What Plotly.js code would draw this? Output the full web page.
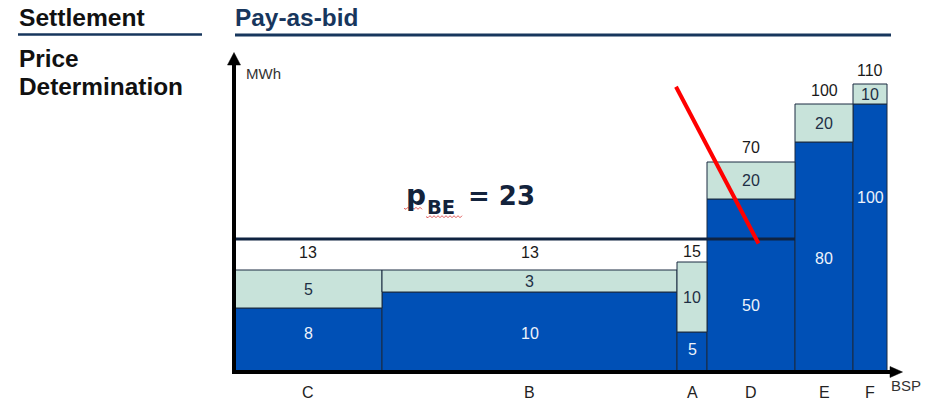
<!DOCTYPE html>
<html>
<head>
<meta charset="utf-8">
<script src="https://cdn.plot.ly/plotly-3.0.1.min.js"></script>
<style>html,body{margin:0;padding:0;background:#fff;}#chart{width:935px;height:401px;}</style>
</head>
<body>
<div id="chart"></div>
<script>
// ---------- data ----------
const categories   = ['C', 'B', 'A', 'D', 'E', 'F'];
const lowerValues  = [8, 10, 5, 50, 80, 100];   // dark blue segment labels
const upperValues  = [5, 3, 10, 20, 20, 10];    // light segment labels
const totalValues  = [13, 13, 15, 70, 100, 110];
const barWidths    = [148, 295, 30, 88, 58, 34];   // drawn BSP widths (schematic units)
const lowerHeights = [63, 79, 39, 172, 229, 267];  // drawn heights of dark segments
const upperHeights = [38, 22, 70, 37, 38, 20];     // drawn heights of light segments
const breakEvenPrice  = 23;
const breakEvenHeight = 132;                       // drawn level of p_BE line
const breakEvenEndBar = 'D';

// ---------- styling ----------
const FONT = 'Liberation Sans, Arial, sans-serif';
const WIDE = 'DejaVu Sans, Verdana, sans-serif';
const DARK = '#0050b6', LIGHT = '#c8e3da', EDGE = '#1b2a40', NAVY = '#17365d', INK = '#13233c';
const darkLabelFrac = [0.6, 0.48, 0.54, 0.38, 0.49, 0.65];
const totalGap      = [18, 18, 11, 15, 14, 14];

// pixel-to-axis helpers (axes map 1 unit = 1 px; origin at px (234, 371))
const X = px => px - 234;
const Y = py => 371 - py;

const lefts = [], centers = [];
let acc = 0;
barWidths.forEach(w => { lefts.push(acc); centers.push(acc + w / 2); acc += w; });
const totals = lowerHeights.map((h, i) => h + upperHeights[i]);
const beIdx = categories.indexOf(breakEvenEndBar);
const beEnd = lefts[beIdx] + barWidths[beIdx];

const traces = [
  { type: 'bar', x: centers, width: barWidths, y: lowerHeights, base: lowerHeights.map(() => 0),
    hoverinfo: 'skip', marker: { color: DARK, line: { color: EDGE, width: 1 } } },
  { type: 'bar', x: centers, width: barWidths, y: upperHeights, base: lowerHeights,
    hoverinfo: 'skip', marker: { color: LIGHT, line: { color: EDGE, width: 1 } } }
];

const ann = [];
function txt(x, y, text, size, color, opts, family) {
  ann.push(Object.assign({ x: x, y: y, xref: 'x', yref: 'y', text: text, showarrow: false,
    font: { family: family || FONT, size: size, color: color }, xanchor: 'center', yanchor: 'middle' }, opts || {}));
}
// headers
txt(X(17), Y(17.6), '<b>Settlement</b>', 24.6, '#111', { xanchor: 'left' });
txt(X(233), Y(17.3), '<b>Pay-as-bid</b>', 24.4, NAVY, { xanchor: 'left' });
txt(X(17), Y(58.3), '<b>Price</b>', 24.4, '#111', { xanchor: 'left' });
txt(X(17), Y(86.6), '<b>Determination</b>', 24.4, '#111', { xanchor: 'left' });
// axis labels
txt(X(244), Y(73.3), 'MWh', 15, '#333', { xanchor: 'left' });
txt(X(889), Y(385.5), 'BSP', 15, '#333', { xanchor: 'left' });
// bar labels
categories.forEach((c, i) => {
  txt(centers[i], Y(392), c, 16, '#222');
  txt(centers[i], lowerHeights[i] * darkLabelFrac[i], String(lowerValues[i]), 16, '#eef3fb');
  txt(centers[i], lowerHeights[i] + upperHeights[i] / 2, String(upperValues[i]), 16, '#1e2f45');
  txt(centers[i], totals[i] + totalGap[i], String(totalValues[i]), 16, '#1a1a1a');
});
// p_BE label
txt(X(404), Y(195.3), '<b>p</b>', 28, INK, { xanchor: 'left' }, WIDE);
txt(X(424.5), Y(207.4), '<b>BE</b>', 19.5, INK, { xanchor: 'left' }, WIDE);
txt(X(465.5), Y(196.2), '<b>= ' + breakEvenPrice + '</b>', 26, INK, { xanchor: 'left' }, WIDE);

function wave(x0, x1, y, amp, step) {
  let d = 'M' + X(x0) + ',' + Y(y);
  let k = 0;
  for (let x = x0 + step; x <= x1 + 0.01; x += step) {
    k++;
    d += ' L' + X(x) + ',' + Y(y + (k % 2 ? amp : -amp));
  }
  return d;
}

const shapes = [
  { type: 'line', xref: 'x', yref: 'y', x0: X(18), x1: X(202), y0: Y(34.5), y1: Y(34.5), line: { color: NAVY, width: 2.5 } },
  { type: 'line', xref: 'x', yref: 'y', x0: X(235), x1: X(891), y0: Y(35), y1: Y(35), line: { color: NAVY, width: 3 } },
  // break-even line
  { type: 'line', xref: 'x', yref: 'y', x0: 0, x1: beEnd, y0: breakEvenHeight, y1: breakEvenHeight, line: { color: '#0f2341', width: 3 } },
  // red strike line
  { type: 'line', xref: 'x', yref: 'y', x0: X(676), y0: Y(86.7), x1: X(758.5), y1: Y(243.5), line: { color: '#ff0000', width: 4 } },
  // y axis
  { type: 'line', xref: 'x', yref: 'y', x0: 0, x1: 0, y0: Y(374), y1: Y(63), line: { color: '#000', width: 4 } },
  { type: 'path', xref: 'x', yref: 'y', path: 'M' + X(227.5) + ',' + Y(65) + ' L' + X(240.5) + ',' + Y(65) + ' L' + X(234) + ',' + Y(52.5) + ' Z', fillcolor: '#000', line: { color: '#000', width: 0.5 } },
  // x axis
  { type: 'line', xref: 'x', yref: 'y', x0: X(232), x1: X(891), y0: Y(372), y1: Y(372), line: { color: '#000', width: 4 } },
  { type: 'path', xref: 'x', yref: 'y', path: 'M' + X(890) + ',' + Y(366.5) + ' L' + X(890) + ',' + Y(377.5) + ' L' + X(902.5) + ',' + Y(372) + ' Z', fillcolor: '#000', line: { color: '#000', width: 0.5 } },
  // spell-check squiggles
  { type: 'path', xref: 'x', yref: 'y', path: wave(404, 422, 208.3, 1, 2), line: { color: '#e05a5a', width: 1 } },
  { type: 'path', xref: 'x', yref: 'y', path: wave(426, 462, 216.7, 1, 2), line: { color: '#e05a5a', width: 1 } }
];

const layout = {
  width: 935, height: 401, autosize: false,
  margin: { l: 0, r: 0, t: 0, b: 0, pad: 0 },
  paper_bgcolor: '#fff', plot_bgcolor: '#fff',
  showlegend: false, barmode: 'overlay', bargap: 0,
  xaxis: { range: [-234, 701], visible: false, fixedrange: true },
  yaxis: { range: [-30, 371], visible: false, fixedrange: true },
  annotations: ann, shapes: shapes
};

Plotly.newPlot('chart', traces, layout, { displayModeBar: false, staticPlot: true });
</script>
</body>
</html>
